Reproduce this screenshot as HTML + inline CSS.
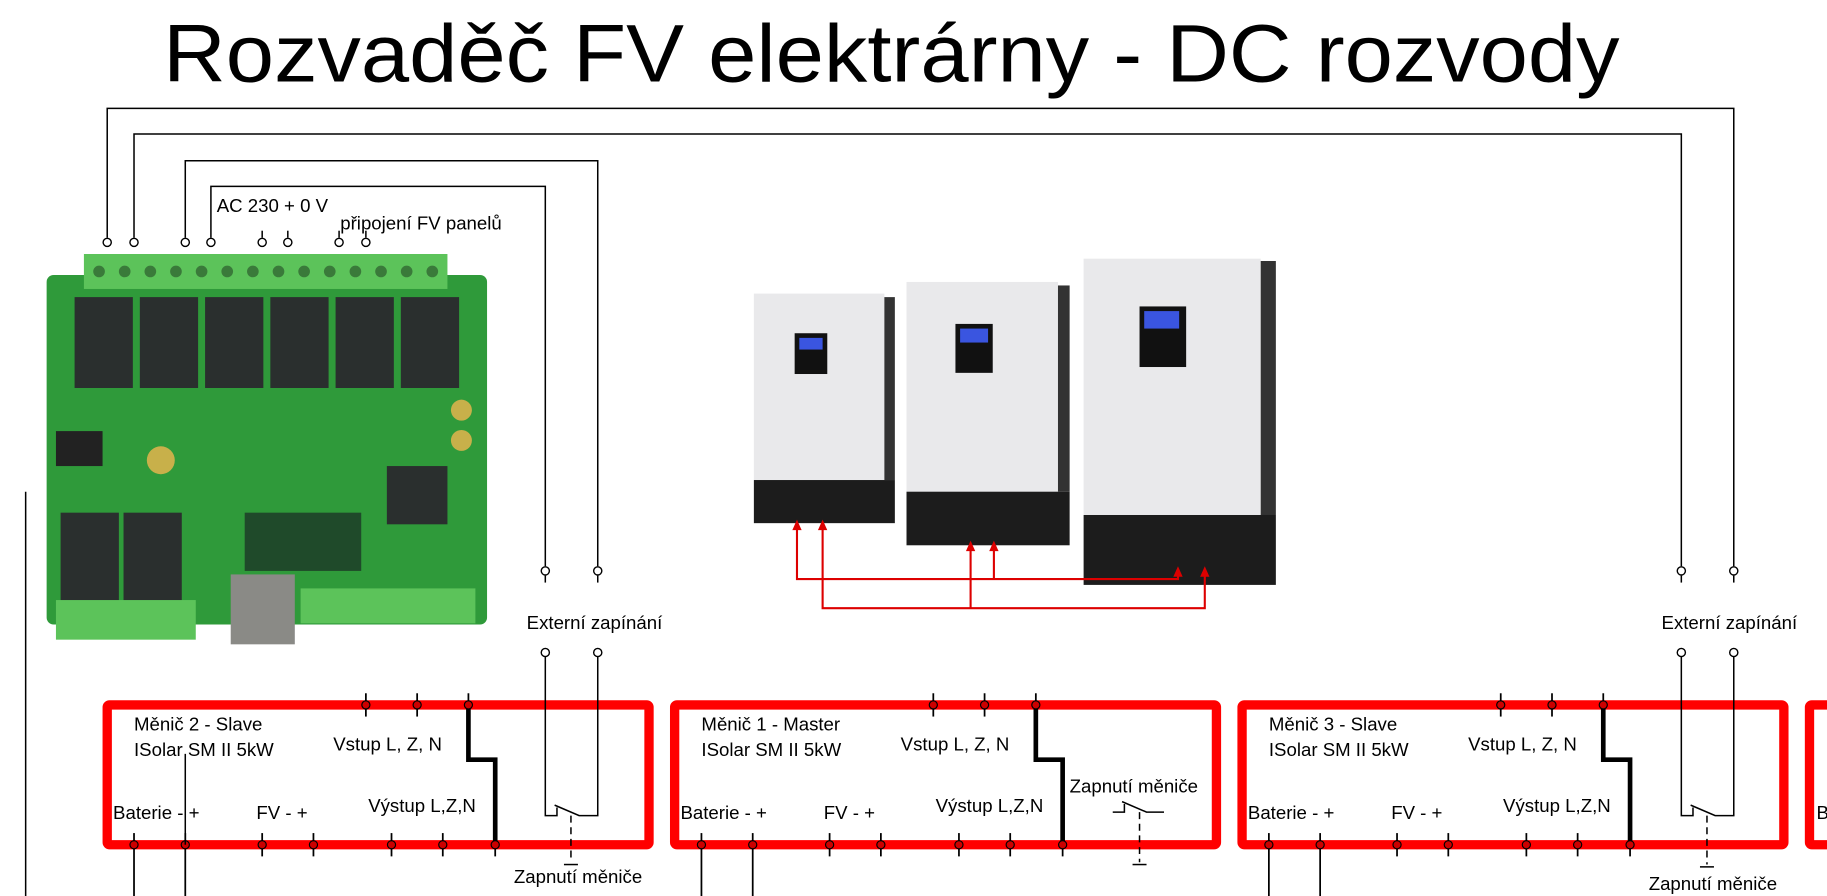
<!DOCTYPE html>
<html><head><meta charset="utf-8"><style>
html,body{margin:0;padding:0;background:#fff;overflow:hidden}
svg{display:block}
text{font-family:"Liberation Sans",sans-serif;fill:#000}
</style></head><body>
<svg width="1827" height="896" viewBox="0 0 1568 769" xmlns="http://www.w3.org/2000/svg">
<defs>
<g id="box">
 <rect x="92" y="605" width="465" height="120" fill="none" stroke="#f00" stroke-width="8" rx="2"/>
 <g stroke="#000" stroke-width="1.5">
  <line x1="314" y1="595" x2="314" y2="615"/><line x1="358" y1="595" x2="358" y2="615"/><line x1="402" y1="595" x2="402" y2="605"/>
  <line x1="225" y1="715" x2="225" y2="735"/><line x1="269" y1="715" x2="269" y2="735"/>
  <line x1="336" y1="715" x2="336" y2="735"/><line x1="380" y1="715" x2="380" y2="735"/><line x1="425" y1="725" x2="425" y2="735"/>
  <line x1="115" y1="715" x2="115" y2="769"/><line x1="159" y1="715" x2="159" y2="769"/>
 </g>
 <polyline points="402,608 402,652 425,652 425,722" fill="none" stroke="#000" stroke-width="4"/>
 <g fill="#c00" stroke="#000" stroke-width="1">
  <circle cx="314" cy="605" r="3.5"/><circle cx="358" cy="605" r="3.5"/><circle cx="402" cy="605" r="3.5"/>
  <circle cx="115" cy="725" r="3.5"/><circle cx="159" cy="725" r="3.5"/><circle cx="225" cy="725" r="3.5"/><circle cx="269" cy="725" r="3.5"/>
  <circle cx="336" cy="725" r="3.5"/><circle cx="380" cy="725" r="3.5"/><circle cx="425" cy="725" r="3.5"/>
 </g>
 <g font-size="16">
  <text x="115" y="649">ISolar SM II 5kW</text>
  <text x="286" y="644">Vstup L, Z, N</text>
  <text x="97" y="703">Baterie - +</text>
  <text x="220" y="703">FV - +</text>
  <text x="316" y="697">Výstup L,Z,N</text>
 </g>
</g>
</defs>

<text x="140" y="70" font-size="70" textLength="1250" lengthAdjust="spacingAndGlyphs">Rozvaděč FV elektrárny - DC rozvody</text>

<!-- top wires -->
<g fill="none" stroke="#000" stroke-width="1.3">
 <polyline points="92,204 92,93 1488,93 1488,486"/>
 <polyline points="115,204 115,115 1443,115 1443,486"/>
 <polyline points="159,204 159,138 513,138 513,486"/>
 <polyline points="181,204 181,160 468,160 468,486"/>
 <line x1="225" y1="198" x2="225" y2="204"/><line x1="247" y1="198" x2="247" y2="204"/>
 <line x1="291" y1="198" x2="291" y2="204"/><line x1="314" y1="198" x2="314" y2="204"/>
 <line x1="22" y1="422" x2="22" y2="769"/>
 <line x1="468" y1="494" x2="468" y2="500"/><line x1="513" y1="494" x2="513" y2="500"/>
 <line x1="1443" y1="494" x2="1443" y2="500"/><line x1="1488" y1="494" x2="1488" y2="500"/>
</g>
<g fill="#fff" stroke="#000" stroke-width="1.2">
 <circle cx="92" cy="208" r="3.5"/><circle cx="115" cy="208" r="3.5"/><circle cx="159" cy="208" r="3.5"/><circle cx="181" cy="208" r="3.5"/>
 <circle cx="225" cy="208" r="3.5"/><circle cx="247" cy="208" r="3.5"/><circle cx="291" cy="208" r="3.5"/><circle cx="314" cy="208" r="3.5"/>
 <circle cx="468" cy="490" r="3.5"/><circle cx="513" cy="490" r="3.5"/><circle cx="1443" cy="490" r="3.5"/><circle cx="1488" cy="490" r="3.5"/>
</g>
<text x="186" y="182" font-size="16">AC 230 + 0 V</text>
<text x="292" y="197" font-size="16">připojení FV panelů</text>

<!-- PCB -->
<g>
 <rect x="40" y="236" width="378" height="300" rx="6" fill="#2f9a3a"/>
 <rect x="72" y="218" width="312" height="30" fill="#5cc35a"/>
 <g fill="#3a7a3a"><circle cx="85" cy="233" r="5"/><circle cx="107" cy="233" r="5"/><circle cx="129" cy="233" r="5"/><circle cx="151" cy="233" r="5"/><circle cx="173" cy="233" r="5"/><circle cx="195" cy="233" r="5"/><circle cx="217" cy="233" r="5"/><circle cx="239" cy="233" r="5"/><circle cx="261" cy="233" r="5"/><circle cx="283" cy="233" r="5"/><circle cx="305" cy="233" r="5"/><circle cx="327" cy="233" r="5"/><circle cx="349" cy="233" r="5"/><circle cx="371" cy="233" r="5"/></g>
 <g fill="#2a2f2e"><rect x="64" y="255" width="50" height="78"/><rect x="120" y="255" width="50" height="78"/><rect x="176" y="255" width="50" height="78"/><rect x="232" y="255" width="50" height="78"/><rect x="288" y="255" width="50" height="78"/><rect x="344" y="255" width="50" height="78"/>
 <rect x="52" y="440" width="50" height="80"/><rect x="106" y="440" width="50" height="80"/><rect x="332" y="400" width="52" height="50"/><rect x="210" y="440" width="100" height="50" fill="#1f4a2a"/></g>
 <rect x="48" y="515" width="120" height="34" fill="#5cc35a"/>
 <rect x="258" y="505" width="150" height="30" fill="#5cc35a"/>
 <rect x="198" y="493" width="55" height="60" fill="#8a8a86"/>
 <circle cx="138" cy="395" r="12" fill="#c8b04a"/><circle cx="396" cy="352" r="9" fill="#c8b04a"/><circle cx="396" cy="378" r="9" fill="#c8b04a"/>
 <rect x="48" y="370" width="40" height="30" fill="#222"/>
</g>

<!-- inverters -->
<g>
 <rect x="647" y="252" width="112" height="160" fill="#e9e9eb"/><rect x="759" y="255" width="9" height="157" fill="#333"/>
 <rect x="647" y="412" width="121" height="37" fill="#1c1c1c"/>
 <rect x="682" y="286" width="28" height="35" fill="#111"/><rect x="686" y="290" width="20" height="10" fill="#3a55e0"/>
 <rect x="778" y="242" width="130" height="180" fill="#e9e9eb"/><rect x="908" y="245" width="10" height="177" fill="#333"/>
 <rect x="778" y="422" width="140" height="46" fill="#1c1c1c"/>
 <rect x="820" y="278" width="32" height="42" fill="#111"/><rect x="824" y="282" width="24" height="12" fill="#3a55e0"/>
 <rect x="930" y="222" width="152" height="220" fill="#e9e9eb"/><rect x="1082" y="224" width="13" height="218" fill="#333"/>
 <rect x="930" y="442" width="165" height="60" fill="#1c1c1c"/>
 <rect x="978" y="263" width="40" height="52" fill="#111"/><rect x="982" y="267" width="30" height="15" fill="#3a55e0"/>
</g>

<!-- red links -->
<g fill="none" stroke="#d00" stroke-width="1.8">
 <polyline points="684,452 684,497 1011,497 1011,492"/>
 <polyline points="706,452 706,522 1034,522 1034,492"/>
 <line x1="833" y1="470" x2="833" y2="522"/>
 <line x1="853" y1="470" x2="853" y2="497"/>
</g>
<g fill="#d00">
 <polygon points="684,446 680,455 688,455"/><polygon points="706,446 702,455 710,455"/>
 <polygon points="833,464 829,473 837,473"/><polygon points="853,464 849,473 857,473"/>
 <polygon points="1011,486 1007,495 1015,495"/><polygon points="1034,486 1030,495 1038,495"/>
</g>

<!-- boxes -->
<use href="#box"/>
<use href="#box" transform="translate(487,0)"/>
<use href="#box" transform="translate(974,0)"/>
<rect x="1553" y="605" width="40" height="120" fill="none" stroke="#f00" stroke-width="8" rx="2"/>
<text x="1559" y="703" font-size="16">B</text>

<g font-size="16">
 <text x="115" y="627">Měnič 2 - Slave</text>
 <text x="602" y="627">Měnič 1 - Master</text>
 <text x="1089" y="627">Měnič 3 - Slave</text>
 <text x="452" y="540">Externí zapínání</text>
 <text x="1426" y="540">Externí zapínání</text>
 <text x="441" y="758">Zapnutí měniče</text>
 <text x="1415" y="764">Zapnutí měniče</text>
 <text x="918" y="680">Zapnutí měniče</text>
</g>

<!-- switches -->
<g fill="none" stroke="#000" stroke-width="1.3">
 <line x1="468" y1="566" x2="468" y2="560"/><line x1="513" y1="566" x2="513" y2="560"/>
 <polyline points="468,566 468,700 478,700 478,693"/><polyline points="476,691 497,700 513,700 513,566"/>
 <line x1="490" y1="700" x2="490" y2="740" stroke-dasharray="6,4"/><line x1="484" y1="742" x2="496" y2="742"/>
 <line x1="1443" y1="566" x2="1443" y2="560"/><line x1="1488" y1="566" x2="1488" y2="560"/>
 <polyline points="1443,566 1443,700 1453,700 1453,693"/><polyline points="1451,691 1472,700 1488,700 1488,566"/>
 <line x1="1465" y1="700" x2="1465" y2="742" stroke-dasharray="6,4"/><line x1="1459" y1="744" x2="1471" y2="744"/>
 <polyline points="955,697 965,697 965,690"/><polyline points="963,688 984,697 999,697"/>
 <line x1="978" y1="697" x2="978" y2="740" stroke-dasharray="6,4"/><line x1="972" y1="742" x2="984" y2="742"/>
</g>
<g fill="#fff" stroke="#000" stroke-width="1.2">
 <circle cx="468" cy="560" r="3.5"/><circle cx="513" cy="560" r="3.5"/><circle cx="1443" cy="560" r="3.5"/><circle cx="1488" cy="560" r="3.5"/>
</g>
<line x1="159" y1="647" x2="159" y2="725" stroke="#000" stroke-width="1.3"/>
</svg>
</body></html>
